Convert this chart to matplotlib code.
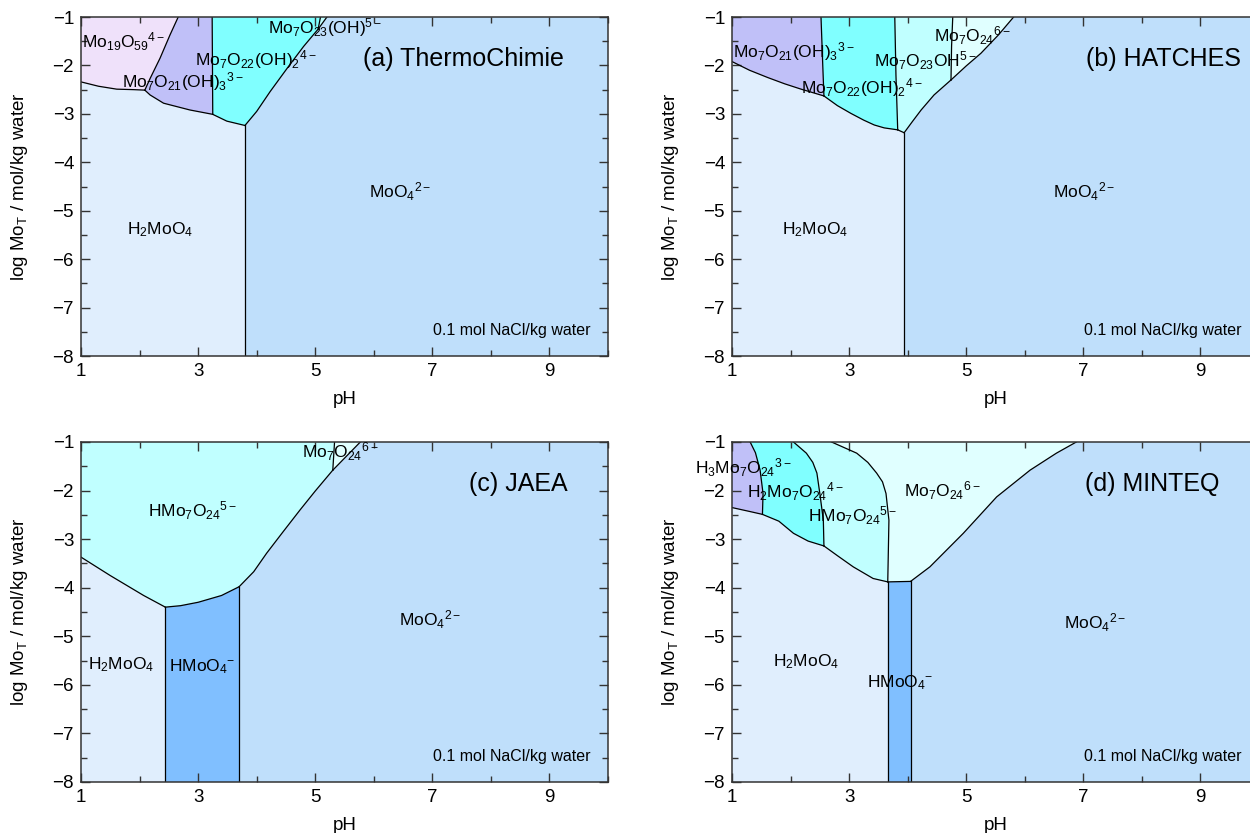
import numpy as np
import matplotlib.pyplot as plt
from matplotlib.ticker import MultipleLocator

plt.rcParams['font.family'] = ['Liberation Sans', 'DejaVu Sans']
plt.rcParams['mathtext.fontset'] = 'custom'
plt.rcParams['mathtext.rm'] = 'Liberation Sans'
plt.rcParams['mathtext.it'] = 'Liberation Sans:italic'
plt.rcParams['mathtext.bf'] = 'Liberation Sans:bold'

# fill colours for the predominance fields
col_h2moo4 = '#e0eefd'
col_moo4 = '#bfdffb'
col_hmoo4 = '#80bfff'
col_mo19 = '#efe1fa'
col_mo21 = '#c0c0f8'
col_mo22 = '#80ffff'
col_mo23 = '#c0ffff'
col_mo24 = '#e0ffff'

# field boundaries as (pH, log Mo_T) points
# (a) ThermoChimie
a_h2_mo19 = [(1.0, -2.34), (1.3, -2.43), (1.61, -2.49), (1.9, -2.50), (2.09, -2.51)]
a_mo19_mo21 = [(2.09, -2.51), (2.18, -2.27), (2.35, -1.85), (2.52, -1.37), (2.66, -1.0)]
a_h2_mo21 = [(2.09, -2.51), (2.18, -2.61), (2.41, -2.78), (2.86, -2.92), (3.25, -3.01)]
a_mo21_mo22 = [(3.25, -3.01), (3.24, -1.0)]
a_h2_mo22 = [(3.25, -3.01), (3.49, -3.15), (3.80, -3.24)]
a_h2_moo4 = [(3.80, -3.24), (3.80, -8.0)]
a_mo22_moo4 = [(3.80, -3.24), (4.0, -2.95), (4.23, -2.54), (4.52, -2.06), (4.80, -1.61), (5.05, -1.25)]
a_mo22_mo23 = [(5.05, -1.25), (5.09, -1.0)]
a_mo23_moo4 = [(5.05, -1.25), (5.2, -1.0)]

# (b) HATCHES
b_h2_mo21 = [(1.0, -1.92), (1.3, -2.1), (1.61, -2.25), (1.9, -2.38), (2.18, -2.49), (2.57, -2.63)]
b_mo21_mo22 = [(2.57, -2.63), (2.55, -2.0), (2.52, -1.0)]
b_h2_mo22 = [(2.57, -2.63), (2.8, -2.83), (3.03, -2.99), (3.25, -3.13), (3.43, -3.23),
             (3.6, -3.29), (3.83, -3.33)]
b_mo22_mo23 = [(3.83, -3.33), (3.80, -2.2), (3.78, -1.0)]
b_h2_mo23 = [(3.83, -3.33), (3.94, -3.39)]
b_h2_moo4 = [(3.94, -3.39), (3.94, -8.0)]
b_mo23_moo4 = [(3.94, -3.39), (4.08, -3.16), (4.23, -2.92), (4.45, -2.61), (4.74, -2.3)]
b_mo23_mo24 = [(4.74, -2.3), (4.75, -1.6), (4.77, -1.0)]
b_mo24_moo4 = [(4.74, -2.3), (5.0, -2.01), (5.25, -1.75), (5.55, -1.37), (5.81, -1.0)]

# (c) JAEA
c_h2_hmo7 = [(1.0, -3.37), (1.5, -3.75), (2.07, -4.16), (2.44, -4.40)]
c_h2_hmoo4 = [(2.44, -4.40), (2.44, -8.0)]
c_hmoo4_hmo7 = [(2.44, -4.40), (2.7, -4.37), (3.0, -4.30), (3.4, -4.16), (3.70, -3.98)]
c_hmoo4_moo4 = [(3.70, -3.98), (3.70, -8.0)]
c_hmo7_moo4 = [(3.70, -3.98), (3.95, -3.67), (4.17, -3.29), (4.45, -2.85),
               (4.74, -2.40), (5.0, -2.01), (5.30, -1.58)]
c_hmo7_mo24 = [(5.30, -1.58), (5.33, -1.0)]
c_mo24_moo4 = [(5.30, -1.58), (5.77, -1.0)]

# (d) MINTEQ
d_h2_h3mo7 = [(1.0, -2.35), (1.3, -2.43), (1.52, -2.49)]
d_h3mo7_h2mo7 = [(1.52, -2.49), (1.53, -2.06), (1.48, -1.58), (1.40, -1.22), (1.31, -1.0)]
d_h2_h2mo7 = [(1.52, -2.49), (1.8, -2.63), (2.05, -2.88), (2.3, -3.04), (2.57, -3.14)]
d_h2mo7_hmo7 = [(2.57, -3.14), (2.56, -2.61), (2.50, -2.06), (2.45, -1.64), (2.38, -1.42),
                (2.27, -1.23), (2.05, -1.0)]
d_h2_hmo7 = [(2.57, -3.14), (2.8, -3.34), (3.07, -3.57), (3.41, -3.81), (3.66, -3.88)]
d_hmo7_mo24 = [(3.66, -3.88), (3.68, -2.61), (3.63, -2.06), (3.57, -1.82), (3.47, -1.64),
               (3.32, -1.42), (3.13, -1.23), (2.70, -1.0)]
d_h2_hmoo4 = [(3.66, -3.88), (3.66, -8.0)]
d_hmoo4_mo24 = [(3.66, -3.88), (4.05, -3.87)]
d_hmoo4_moo4 = [(4.05, -3.87), (4.05, -8.0)]
d_mo24_moo4 = [(4.05, -3.87), (4.38, -3.57), (4.95, -2.88), (5.52, -2.13),
               (6.09, -1.58), (6.54, -1.23), (6.88, -1.0)]

xlim = (1, 10)
ylim = (-8, -1)
xticks = [1, 3, 5, 7, 9]
medium = '0.1 mol NaCl/kg water'


def rev(b):
    return b[::-1]


def poly(*parts):
    pts = []
    for p in parts:
        pts.extend(p)
    return np.array(pts)


def setup(ax, title, title_x):
    ax.set_xlim(*xlim)
    ax.set_ylim(*ylim)
    ax.set_facecolor(col_moo4)
    ax.set_xticks(xticks)
    ax.xaxis.set_minor_locator(MultipleLocator(1))
    ax.yaxis.set_major_locator(MultipleLocator(1))
    ax.yaxis.set_minor_locator(MultipleLocator(0.5))
    ax.tick_params(which='both', direction='in', top=True, right=True,
                   labelsize=13.5, color='#333333', width=1)
    ax.tick_params(which='major', length=6.5, pad=5)
    ax.tick_params(which='minor', length=4)
    for s in ax.spines.values():
        s.set_color('#333333')
        s.set_linewidth(1.1)
    ax.set_xlabel('pH', fontsize=13.5, labelpad=8)
    ax.set_ylabel(r'log Mo$_\mathregular{T}$ / mol/kg water', fontsize=13.5)
    ax.yaxis.set_label_coords(-0.097, 0.5)
    ax.text(title_x, -2.01, title, fontsize=18, ha='left', va='baseline')
    ax.text(9.7, -7.48, medium, fontsize=11.5, ha='right', va='center')


def fields(ax, regions, lines):
    for pts, col in regions:
        ax.fill(pts[:, 0], pts[:, 1], color=col, lw=0, zorder=1)
    for b in lines:
        b = np.array(b)
        ax.plot(b[:, 0], b[:, 1], color='black', lw=0.9, zorder=2)


def label(ax, x, y, s, ha='left', va='baseline'):
    ax.text(x, y, s, fontsize=12.5, ha=ha, va=va, zorder=3)


fig = plt.figure(figsize=(12.5, 8.33), dpi=100)
W, H = 1250, 833
ax_a = fig.add_axes([81 / W, 1 - 356 / H, 527 / W, 339 / H])
ax_b = fig.add_axes([732 / W, 1 - 356 / H, 527 / W, 339 / H])
ax_c = fig.add_axes([81 / W, 1 - 782 / H, 527 / W, 340 / H])
ax_d = fig.add_axes([732 / W, 1 - 782 / H, 527 / W, 340 / H])

# (a)
fields(ax_a, [
    (poly([(1.0, -8.0)], rev(a_h2_moo4), rev(a_h2_mo22), rev(a_h2_mo21), rev(a_h2_mo19)), col_h2moo4),
    (poly([(1.0, -1.0)], rev(a_mo19_mo21), rev(a_h2_mo19)), col_mo19),
    (poly(a_mo19_mo21, rev(a_mo21_mo22), rev(a_h2_mo21)), col_mo21),
    (poly(a_mo21_mo22, rev(a_mo22_mo23), rev(a_mo22_moo4), rev(a_h2_mo22)), col_mo22),
    (poly(a_mo22_mo23, rev(a_mo23_moo4)), col_mo23),
], [a_h2_mo19, a_mo19_mo21, a_h2_mo21, a_mo21_mo22, a_h2_mo22, a_h2_moo4,
    a_mo22_moo4, a_mo22_mo23, a_mo23_moo4])
setup(ax_a, '(a) ThermoChimie', 5.82)
label(ax_a, 1.02, -1.64, r'Mo$_{19}$O$_{59}{}^{4-}$')
label(ax_a, 1.70, -2.46, r'Mo$_7$O$_{21}$(OH)$_3{}^{3-}$')
label(ax_a, 2.95, -1.99, r'Mo$_7$O$_{22}$(OH)$_2{}^{4-}$')
label(ax_a, 4.20, -1.33, r'Mo$_7$O$_{23}$(OH)$^{5-}$')
label(ax_a, 6.45, -4.61, r'MoO$_4{}^{2-}$', ha='center', va='center')
label(ax_a, 2.35, -5.40, r'H$_2$MoO$_4$', ha='center', va='center')

# (b)
fields(ax_b, [
    (poly([(1.0, -8.0)], rev(b_h2_moo4), rev(b_h2_mo23), rev(b_h2_mo22), rev(b_h2_mo21)), col_h2moo4),
    (poly([(1.0, -1.0)], rev(b_mo21_mo22), rev(b_h2_mo21)), col_mo21),
    (poly(b_mo21_mo22, rev(b_mo22_mo23), rev(b_h2_mo22)), col_mo22),
    (poly(b_mo22_mo23, rev(b_mo23_mo24), rev(b_mo23_moo4), rev(b_h2_mo23)), col_mo23),
    (poly(b_mo23_mo24, rev(b_mo24_moo4)), col_mo24),
], [b_h2_mo21, b_mo21_mo22, b_h2_mo22, b_mo22_mo23, b_h2_mo23, b_h2_moo4,
    b_mo23_moo4, b_mo23_mo24, b_mo24_moo4])
setup(ax_b, '(b) HATCHES', 7.04)
label(ax_b, 1.02, -1.83, r'Mo$_7$O$_{21}$(OH)$_3{}^{3-}$')
label(ax_b, 2.18, -2.57, r'Mo$_7$O$_{22}$(OH)$_2{}^{4-}$')
label(ax_b, 3.42, -2.03, r'Mo$_7$O$_{23}$OH$^{5-}$')
label(ax_b, 4.45, -1.52, r'Mo$_7$O$_{24}{}^{6-}$')
label(ax_b, 7.02, -4.61, r'MoO$_4{}^{2-}$', ha='center', va='center')
label(ax_b, 2.42, -5.40, r'H$_2$MoO$_4$', ha='center', va='center')

# (c)
fields(ax_c, [
    (poly([(1.0, -8.0)], rev(c_h2_hmoo4), rev(c_h2_hmo7)), col_h2moo4),
    (poly(c_h2_hmoo4, rev(c_hmoo4_moo4), rev(c_hmoo4_hmo7)), col_hmoo4),
    (poly([(1.0, -1.0)], rev(c_hmo7_mo24), rev(c_hmo7_moo4), rev(c_hmoo4_hmo7), rev(c_h2_hmo7)), col_mo23),
    (poly(c_hmo7_mo24, rev(c_mo24_moo4)), col_mo24),
], [c_h2_hmo7, c_h2_hmoo4, c_hmoo4_hmo7, c_hmoo4_moo4, c_hmo7_moo4,
    c_hmo7_mo24, c_mo24_moo4])
setup(ax_c, '(c) JAEA', 7.62)
label(ax_c, 2.15, -2.54, r'HMo$_7$O$_{24}{}^{5-}$')
label(ax_c, 4.78, -1.32, r'Mo$_7$O$_{24}{}^{6-}$')
label(ax_c, 6.97, -4.66, r'MoO$_4{}^{2-}$', ha='center', va='center')
label(ax_c, 1.12, -5.58, r'H$_2$MoO$_4$', va='center')
label(ax_c, 3.07, -5.62, r'HMoO$_4{}^{-}$', ha='center', va='center')

# (d)
fields(ax_d, [
    (poly([(1.0, -8.0)], rev(d_h2_hmoo4), rev(d_h2_hmo7), rev(d_h2_h2mo7), rev(d_h2_h3mo7)), col_h2moo4),
    (poly(d_h2_hmoo4, rev(d_hmoo4_moo4), rev(d_hmoo4_mo24)), col_hmoo4),
    (poly([(1.0, -1.0)], rev(d_h3mo7_h2mo7), rev(d_h2_h3mo7)), col_mo21),
    (poly(d_h3mo7_h2mo7, rev(d_h2mo7_hmo7), rev(d_h2_h2mo7)), col_mo22),
    (poly(d_h2mo7_hmo7, rev(d_hmo7_mo24), rev(d_h2_hmo7)), col_mo23),
    (poly(d_hmo7_mo24, rev(d_mo24_moo4), rev(d_hmoo4_mo24)), col_mo24),
], [d_h2_h3mo7, d_h3mo7_h2mo7, d_h2_h2mo7, d_h2mo7_hmo7, d_h2_hmo7, d_hmo7_mo24,
    d_h2_hmoo4, d_hmoo4_mo24, d_hmoo4_moo4, d_mo24_moo4])
setup(ax_d, '(d) MINTEQ', 7.02)
label(ax_d, 0.37, -1.66, r'H$_3$Mo$_7$O$_{24}{}^{3-}$')
label(ax_d, 1.26, -2.14, r'H$_2$Mo$_7$O$_{24}{}^{4-}$')
label(ax_d, 2.30, -2.64, r'HMo$_7$O$_{24}{}^{5-}$')
label(ax_d, 3.94, -2.13, r'Mo$_7$O$_{24}{}^{6-}$')
label(ax_d, 7.2, -4.73, r'MoO$_4{}^{2-}$', ha='center', va='center')
label(ax_d, 2.26, -5.53, r'H$_2$MoO$_4$', ha='center', va='center')
label(ax_d, 3.30, -6.06, r'HMoO$_4{}^{-}$')

fig.savefig('out.png', dpi=100)
